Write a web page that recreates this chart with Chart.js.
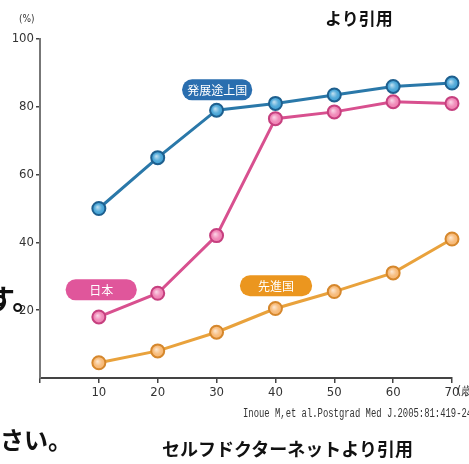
<!DOCTYPE html>
<html lang="ja">
<head>
<meta charset="utf-8">
<script src="https://cdn.jsdelivr.net/npm/chart.js@4.4.0/dist/chart.umd.min.js"></script>
<style>
  html, body { margin: 0; padding: 0; background: #fff; overflow: hidden; }
  #wrap { position: relative; width: 469px; height: 464px; }
  #chart { position: absolute; left: 0; top: 0; }
  .txt { position: absolute; white-space: nowrap; font-family: "Noto Sans CJK JP", sans-serif; color: #111; }
  .bold { font-weight: bold; }
</style>
</head>
<body>
<div id="wrap">
  <canvas id="chart" width="469" height="464"></canvas>
  <div class="txt" style="left:19px;top:13px;font-size:10px;font-family:'Liberation Sans Narrow','DejaVu Sans Condensed',sans-serif;color:#333;">(%)</div>
  <div class="txt bold" style="left:325px;top:9px;font-size:17px;line-height:18px;">より引用</div>
  <div class="txt" style="left:-13px;top:282px;font-size:28px;line-height:32px;font-weight:bold;">す。</div>
  <div class="txt" style="left:0px;top:426px;font-size:24px;line-height:26px;font-weight:bold;">さい。</div>
  <div class="txt bold" style="left:162px;top:438px;font-size:18px;line-height:20px;">セルフドクターネットより引用</div>
  <div class="txt" style="left:457px;top:383px;font-size:12px;font-family:'Liberation Sans Narrow','DejaVu Sans Condensed',sans-serif;color:#333;">(歳)</div>
  <div class="txt" style="left:243px;top:407px;font-size:12px;font-family:'Liberation Mono','DejaVu Sans Mono',monospace;color:#333;transform:scaleX(0.74);transform-origin:left top;">Inoue M,et al.Postgrad Med J.2005:81:419-24.</div>
</div>
<script>
// 年齢（歳）
const ages = [10, 20, 30, 40, 50, 60, 70];
// 陽性率（%）
const developing = [50, 65, 79, 81, 83.5, 86, 87];
const japan = [18, 25, 42, 76.5, 78.5, 81.5, 81];
const developed = [4.5, 8, 13.5, 20.5, 25.5, 31, 41];
const seriesNames = ['発展途上国', '日本', '先進国'];
const yTicks = [20, 40, 60, 80, 100];
const xTicks = [10, 20, 30, 40, 50, 60, 70];

function toPoints(values) {
    return ages.map((a, i) => ({ x: a, y: values[i] }));
}

// pill labels, placed in data coordinates
const pillPlugin = {
    id: 'pills',
    afterDatasetsDraw(chart) {
        const ctx = chart.ctx;
        const xs = chart.scales.x, ys = chart.scales.y;
        const pills = [
            { text: seriesNames[0], ax: 30.1, ay: 85, fill: '#2a6eaf', w: 70 },
            { text: seriesNames[1], ax: 10.4, ay: 26, fill: '#e0569b', w: 71 },
            { text: seriesNames[2], ax: 40.1, ay: 27.2, fill: '#eb961f', w: 72 }
        ];
        pills.forEach(p => {
            const cx = xs.getPixelForValue(p.ax);
            const cy = ys.getPixelForValue(p.ay);
            const h = 21;
            ctx.save();
            ctx.beginPath();
            ctx.roundRect(cx - p.w / 2, cy - h / 2, p.w, h, 10);
            ctx.fillStyle = p.fill;
            ctx.fill();
            ctx.fillStyle = '#fff';
            ctx.font = '12px "Noto Sans CJK JP"';
            ctx.textAlign = 'center';
            ctx.textBaseline = 'middle';
            ctx.fillText(p.text, cx, cy + 1);
            ctx.restore();
        });
    }
};

// small highlight on each marker for the glossy look
const shinePlugin = {
    id: 'shine',
    afterDatasetsDraw(chart) {
        const ctx = chart.ctx;
        chart.data.datasets.forEach((ds, i) => {
            chart.getDatasetMeta(i).data.forEach(pt => {
                const g = ctx.createRadialGradient(pt.x - 1.5, pt.y - 1.5, 0, pt.x, pt.y, 6);
                g.addColorStop(0, 'rgba(255,255,255,0.7)');
                g.addColorStop(0.6, 'rgba(255,255,255,0.15)');
                g.addColorStop(1, 'rgba(255,255,255,0)');
                ctx.save();
                ctx.beginPath();
                ctx.arc(pt.x, pt.y, 5.5, 0, Math.PI * 2);
                ctx.fillStyle = g;
                ctx.fill();
                ctx.restore();
            });
        });
    }
};

const tickFont = { family: '"Liberation Sans Narrow", "DejaVu Sans Condensed", sans-serif', size: 13 };

function lineSet(label, values, line, fill, border) {
    return {
        label: label,
        data: toPoints(values),
        borderColor: line,
        borderWidth: 3,
        pointRadius: 6.5,
        pointBorderWidth: 2,
        pointBackgroundColor: fill,
        pointBorderColor: border,
        tension: 0,
        clip: false
    };
}

new Chart(document.getElementById('chart'), {
    type: 'line',
    data: {
        datasets: [
            lineSet(seriesNames[0], developing, '#2a78a9', '#3c9fd4', '#1e5f8e'),
            lineSet(seriesNames[1], japan, '#d8508f', '#ef7db1', '#c6407f'),
            lineSet(seriesNames[2], developed, '#e9a23c', '#f7b56e', '#d5872c')
        ]
    },
    options: {
        responsive: false,
        animation: false,
        layout: { padding: { top: 39, right: 17, left: 0, bottom: 0 } },
        plugins: { legend: { display: false }, tooltip: { enabled: false } },
        scales: {
            x: {
                type: 'linear',
                min: 0,
                max: 70,
                afterFit: s => { s.height = 86; },
                afterBuildTicks: s => { s.ticks = [0].concat(xTicks).map(v => ({ value: v })); },
                border: { color: '#444', width: 2 },
                grid: { drawOnChartArea: false, color: '#444', lineWidth: 1.5, tickLength: 5 },
                ticks: {
                    font: tickFont,
                    color: '#333',
                    padding: 2,
                    maxRotation: 0,
                    callback: v => (v === 0 ? '' : v)
                }
            },
            y: {
                min: 0,
                max: 100,
                afterFit: s => { s.width = 40; },
                afterBuildTicks: s => { s.ticks = yTicks.map(v => ({ value: v })); },
                border: { color: '#777', width: 2 },
                grid: { drawOnChartArea: false, color: '#444', lineWidth: 1.5, tickLength: 4 },
                ticks: { font: tickFont, color: '#333', padding: 2 }
            }
        }
    },
    plugins: [pillPlugin, shinePlugin]
});
</script>
</body>
</html>
